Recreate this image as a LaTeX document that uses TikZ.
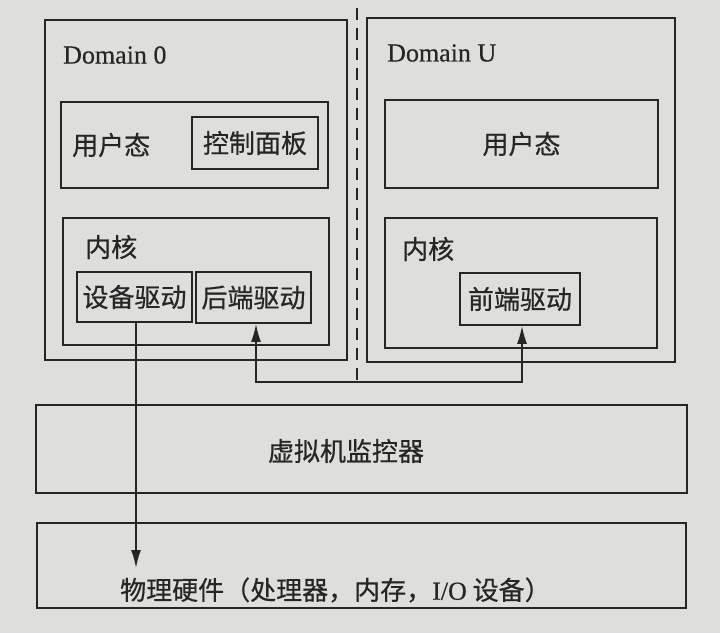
\documentclass[tikz,border=0pt]{standalone}
\usepackage{fontspec}
\setmainfont{Liberation Serif}
\newfontfamily\cjk[FakeBold=0.6]{Noto Sans CJK SC}
\newfontfamily\serifb[FakeBold=0.4]{Liberation Serif}
\usetikzlibrary{arrows.meta}
\definecolor{paper}{RGB}{222,222,219}
\definecolor{ink}{RGB}{38,38,38}
\begin{document}
\begin{tikzpicture}[x=1pt,y=-1pt,
  box/.style={draw=ink,line width=1.7pt,inner sep=0pt},
  lbl/.style={text=ink,inner sep=0pt,font=\fontsize{26}{30}\selectfont\cjk},
  lat/.style={text=ink,inner sep=0pt,font=\fontsize{26}{30}\selectfont\serifb},
  conn/.style={draw=ink,line width=1.7pt},
  tip/.style={-{Latex[length=18pt,width=10pt]}}]
\fill[paper] (0,0) rectangle (720,633);
\useasboundingbox (0,0) rectangle (720,633);
% Domain 0
\node[box,minimum width=302pt,minimum height=340pt] (d0) at (196,190) {};
\node[lat,anchor=west] (d0t) at (63,55) {Domain 0};
\node[box,minimum width=267pt,minimum height=86pt] (d0u) at (194.5,145) {};
\node[lbl,anchor=west] (d0ut) at (72,145) {用户态};
\node[box,minimum width=126pt,minimum height=52pt,lbl] (ctl) at (255,143) {控制面板};
\node[box,minimum width=266pt,minimum height=127pt] (d0k) at (196,281.5) {};
\node[lbl,anchor=west] (d0kt) at (85,247) {内核};
\node[box,minimum width=115pt,minimum height=50pt,lbl] (dev) at (134.5,297) {设备驱动};
\node[box,minimum width=115pt,minimum height=51pt,lbl] (be) at (253.5,297.5) {后端驱动};
% Domain U
\node[box,minimum width=308pt,minimum height=344pt] (du) at (521,190) {};
\node[lat,anchor=west] (dut) at (387,53) {Domain U};
\node[box,minimum width=273pt,minimum height=88pt,lbl] (duu) at (521.5,144) {用户态};
\node[box,minimum width=272pt,minimum height=130pt] (duk) at (521,283) {};
\node[lbl,anchor=west] (dukt) at (402,249) {内核};
\node[box,minimum width=120pt,minimum height=52pt,lbl] (fe) at (520,299) {前端驱动};
% Hypervisor and hardware
\node[box,minimum width=651pt,minimum height=88pt] (vmm) at (361.5,449) {};
\node[lbl] (vmmt) at (346,451) {虚拟机监控器};
\node[box,minimum width=649pt,minimum height=85pt] (hw) at (361.5,565.5) {};
\node[lbl,anchor=west] (hwt) at (120,590) {物理硬件（处理器，内存，{\serifb I/O} 设备）};
% connectors
\coordinate (bus) at (357,382);
\coordinate (hwin) at (136,568);
\draw[conn,dash pattern=on 12pt off 8pt] (357,8) -- (bus);
\draw[conn,tip] ([xshift=1.5pt]dev.south) -- (hwin);
\draw[conn,{Latex[length=18pt,width=10pt]}-{Latex[length=18pt,width=10pt]}] ([xshift=2.5pt]be.south) |- (bus) -| ([xshift=2pt]fe.south);
\end{tikzpicture}
\end{document}
